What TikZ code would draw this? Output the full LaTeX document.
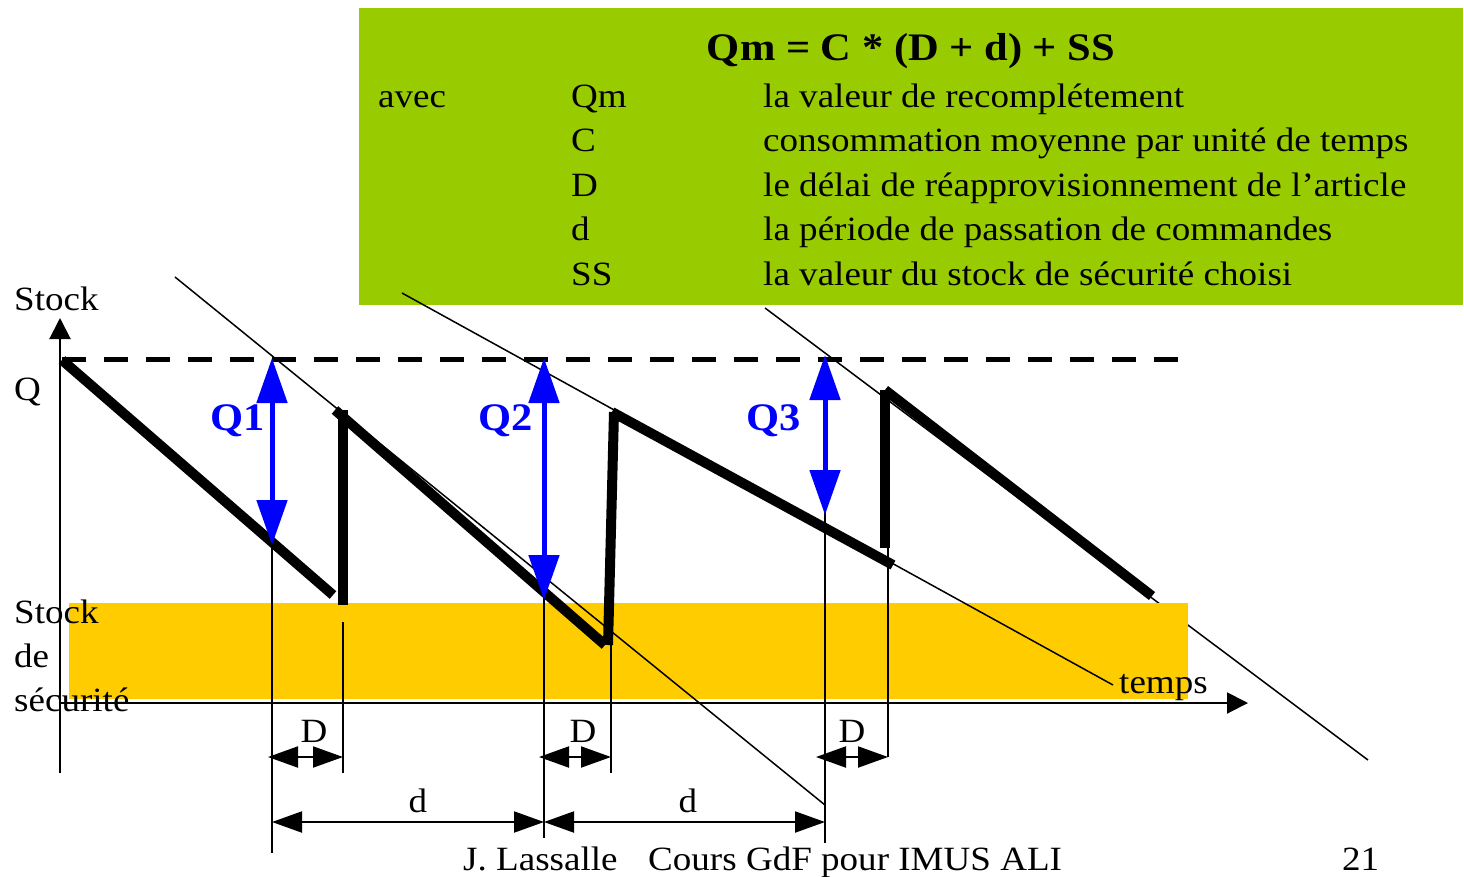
\documentclass[tikz,border=0pt]{standalone}
\usepackage{fontspec}
\setmainfont[FakeStretch=1.09]{Liberation Serif}
\usetikzlibrary{positioning,arrows.meta,calc}
\definecolor{boxgreen}{RGB}{153,204,0}
\definecolor{ssyellow}{RGB}{255,204,0}
\definecolor{qblue}{RGB}{0,0,255}
\tikzset{
  txt/.style={font=\fontsize{34}{40}\selectfont,inner sep=0pt,anchor=base west},
  qlabel/.style={txt,text=qblue,font=\fontsize{39}{46}\selectfont\bfseries},
  saw/.style={line width=10pt},
  guide/.style={line width=1.5pt},
  axis/.style={line width=2pt,-{Triangle[length=21pt,width=21pt]}},
  qarrow/.style={qblue,line width=5pt,
    {Triangle[length=45pt,width=30pt]}-{Triangle[length=45pt,width=30pt]}},
  dim/.style={line width=2pt,
    {Triangle[length=30pt,width=21pt]}-{Triangle[length=30pt,width=21pt]}}
}

\begin{document}
\begin{tikzpicture}[x=1pt,y=-1pt]
  \useasboundingbox (0,0) rectangle (1464,876);
  % cadre formule
  \fill[boxgreen] (359,8) rectangle (1463,305);
  \node[txt,anchor=base,font=\fontsize{39}{46}\selectfont\bfseries] (formule) at (911,60) {Qm = C * (D + d) + SS};
  \node[txt] (avec) at (378,107) {avec};
  \foreach \sym/\desc [count=\i] in {Qm/la valeur de recomplétement,
      C/consommation moyenne par unité de temps,
      D/le délai de réapprovisionnement de l’article,
      d/la période de passation de commandes,
      SS/la valeur du stock de sécurité choisi}{
    \node[txt] (sym\i) at (571,{107+44.5*(\i-1)}) {\sym};
    \node[txt] (desc\i) at (763,{107+44.5*(\i-1)}) {\desc};
  }
  % instants: commande (t1,t3,t5), livraison (t2,t4,t6)
  \coordinate (t1) at (272,0);
  \coordinate (t2) at (343,0);
  \coordinate (t3) at (544,0);
  \coordinate (t4) at (611,0);
  \coordinate (t5) at (825,0);
  \coordinate (t6) at (888,0);
  % droites de consommation
  \draw[guide] (765,308) -- (1368,760);
  % stock de securite
  \fill[ssyellow] (69,603) rectangle (1188,699);
  \draw[guide] (175,277) -- (825,805);
  \coordinate (tempsend) at (1113,685);
  \draw[guide] (402,293) -- (tempsend);
  % axes
  \coordinate (origin) at (60,773);
  \draw[axis] (origin) -- (60,318);
  \draw[axis] (60,703) -- (1248,703);
  % reperes verticaux
  \draw[guide] (t1 |- 0,545) -- (t1 |- 0,853);
  \draw[guide] (t2 |- 0,622) -- (t2 |- 0,773);
  \draw[guide] (t3 |- 0,590) -- (t3 |- 0,838);
  \draw[guide] (t4 |- 0,640) -- (t4 |- 0,773);
  \draw[guide] (t5 |- 0,490) -- (t5 |- 0,843);
  \draw[guide] (t6 |- 0,548) -- (t6 |- 0,757);
  % niveau Q
  \draw[line width=5pt,dash pattern=on 24pt off 18pt] (62,359) -- (1180,359);
  % evolution du stock
  \draw[saw] (62,360) -- (333,595);
  \draw[saw] (343,410) -- (343,605);
  \draw[saw] (335,410) -- (605,645);
  \draw[saw] (608,645) -- (614,412);
  \draw[saw] (612,412) -- (893,565);
  \draw[saw] (885,390) -- (885,548);
  \draw[saw] (885,390) -- (1152,596);
  % quantites commandees
  \draw[qarrow] (t1 |- 0,358) -- (t1 |- 0,545);
  \draw[qarrow] (t3 |- 0,358) -- (t3 |- 0,600);
  \draw[qarrow] (t5 |- 0,355) -- (t5 |- 0,515);
  \node[qlabel] (q1) at (210,430) {Q1};
  \node[qlabel] (q2) at (478,430) {Q2};
  \node[qlabel] (q3) at (746,430) {Q3};
  % delais
  \draw[dim] ($(t1 |- 0,757)+(-4,0)$) -- (t2 |- 0,757);
  \draw[dim] ($(t3 |- 0,757)+(-5,0)$) -- (t4 |- 0,757);
  \draw[dim] ($(t5 |- 0,757)+(-9,0)$) -- (t6 |- 0,757);
  \node[txt,anchor=base] (dlai1) at (314,742) {D};
  \node[txt,anchor=base] (dlai2) at (583,742) {D};
  \node[txt,anchor=base] (dlai3) at (852,742) {D};
  \draw[dim] (t1 |- 0,822) -- (t3 |- 0,822);
  \draw[dim] (t3 |- 0,822) -- (t5 |- 0,822);
  \node[txt,anchor=base] (per1) at (418,812) {d};
  \node[txt,anchor=base] (per2) at (688,812) {d};
  % textes
  \node[txt] (stock) at (14,310) {Stock};
  \node[txt] (qniv) at (14,400) {Q};
  \node[txt] (ss1) at (14,623) {Stock};
  \node[txt] (ss2) at (14,667) {de};
  \node[txt] (ss3) at (14,711) {sécurité};
  \node[txt] (temps) at (1119,693) {temps};
  \node[txt] (auteur) at (463,870) {J. Lassalle};
  \node[txt] (cours) at (648,870) {Cours GdF pour IMUS ALI};
  \node[txt] (page) at (1342,870) {21};
\end{tikzpicture}
\end{document}
